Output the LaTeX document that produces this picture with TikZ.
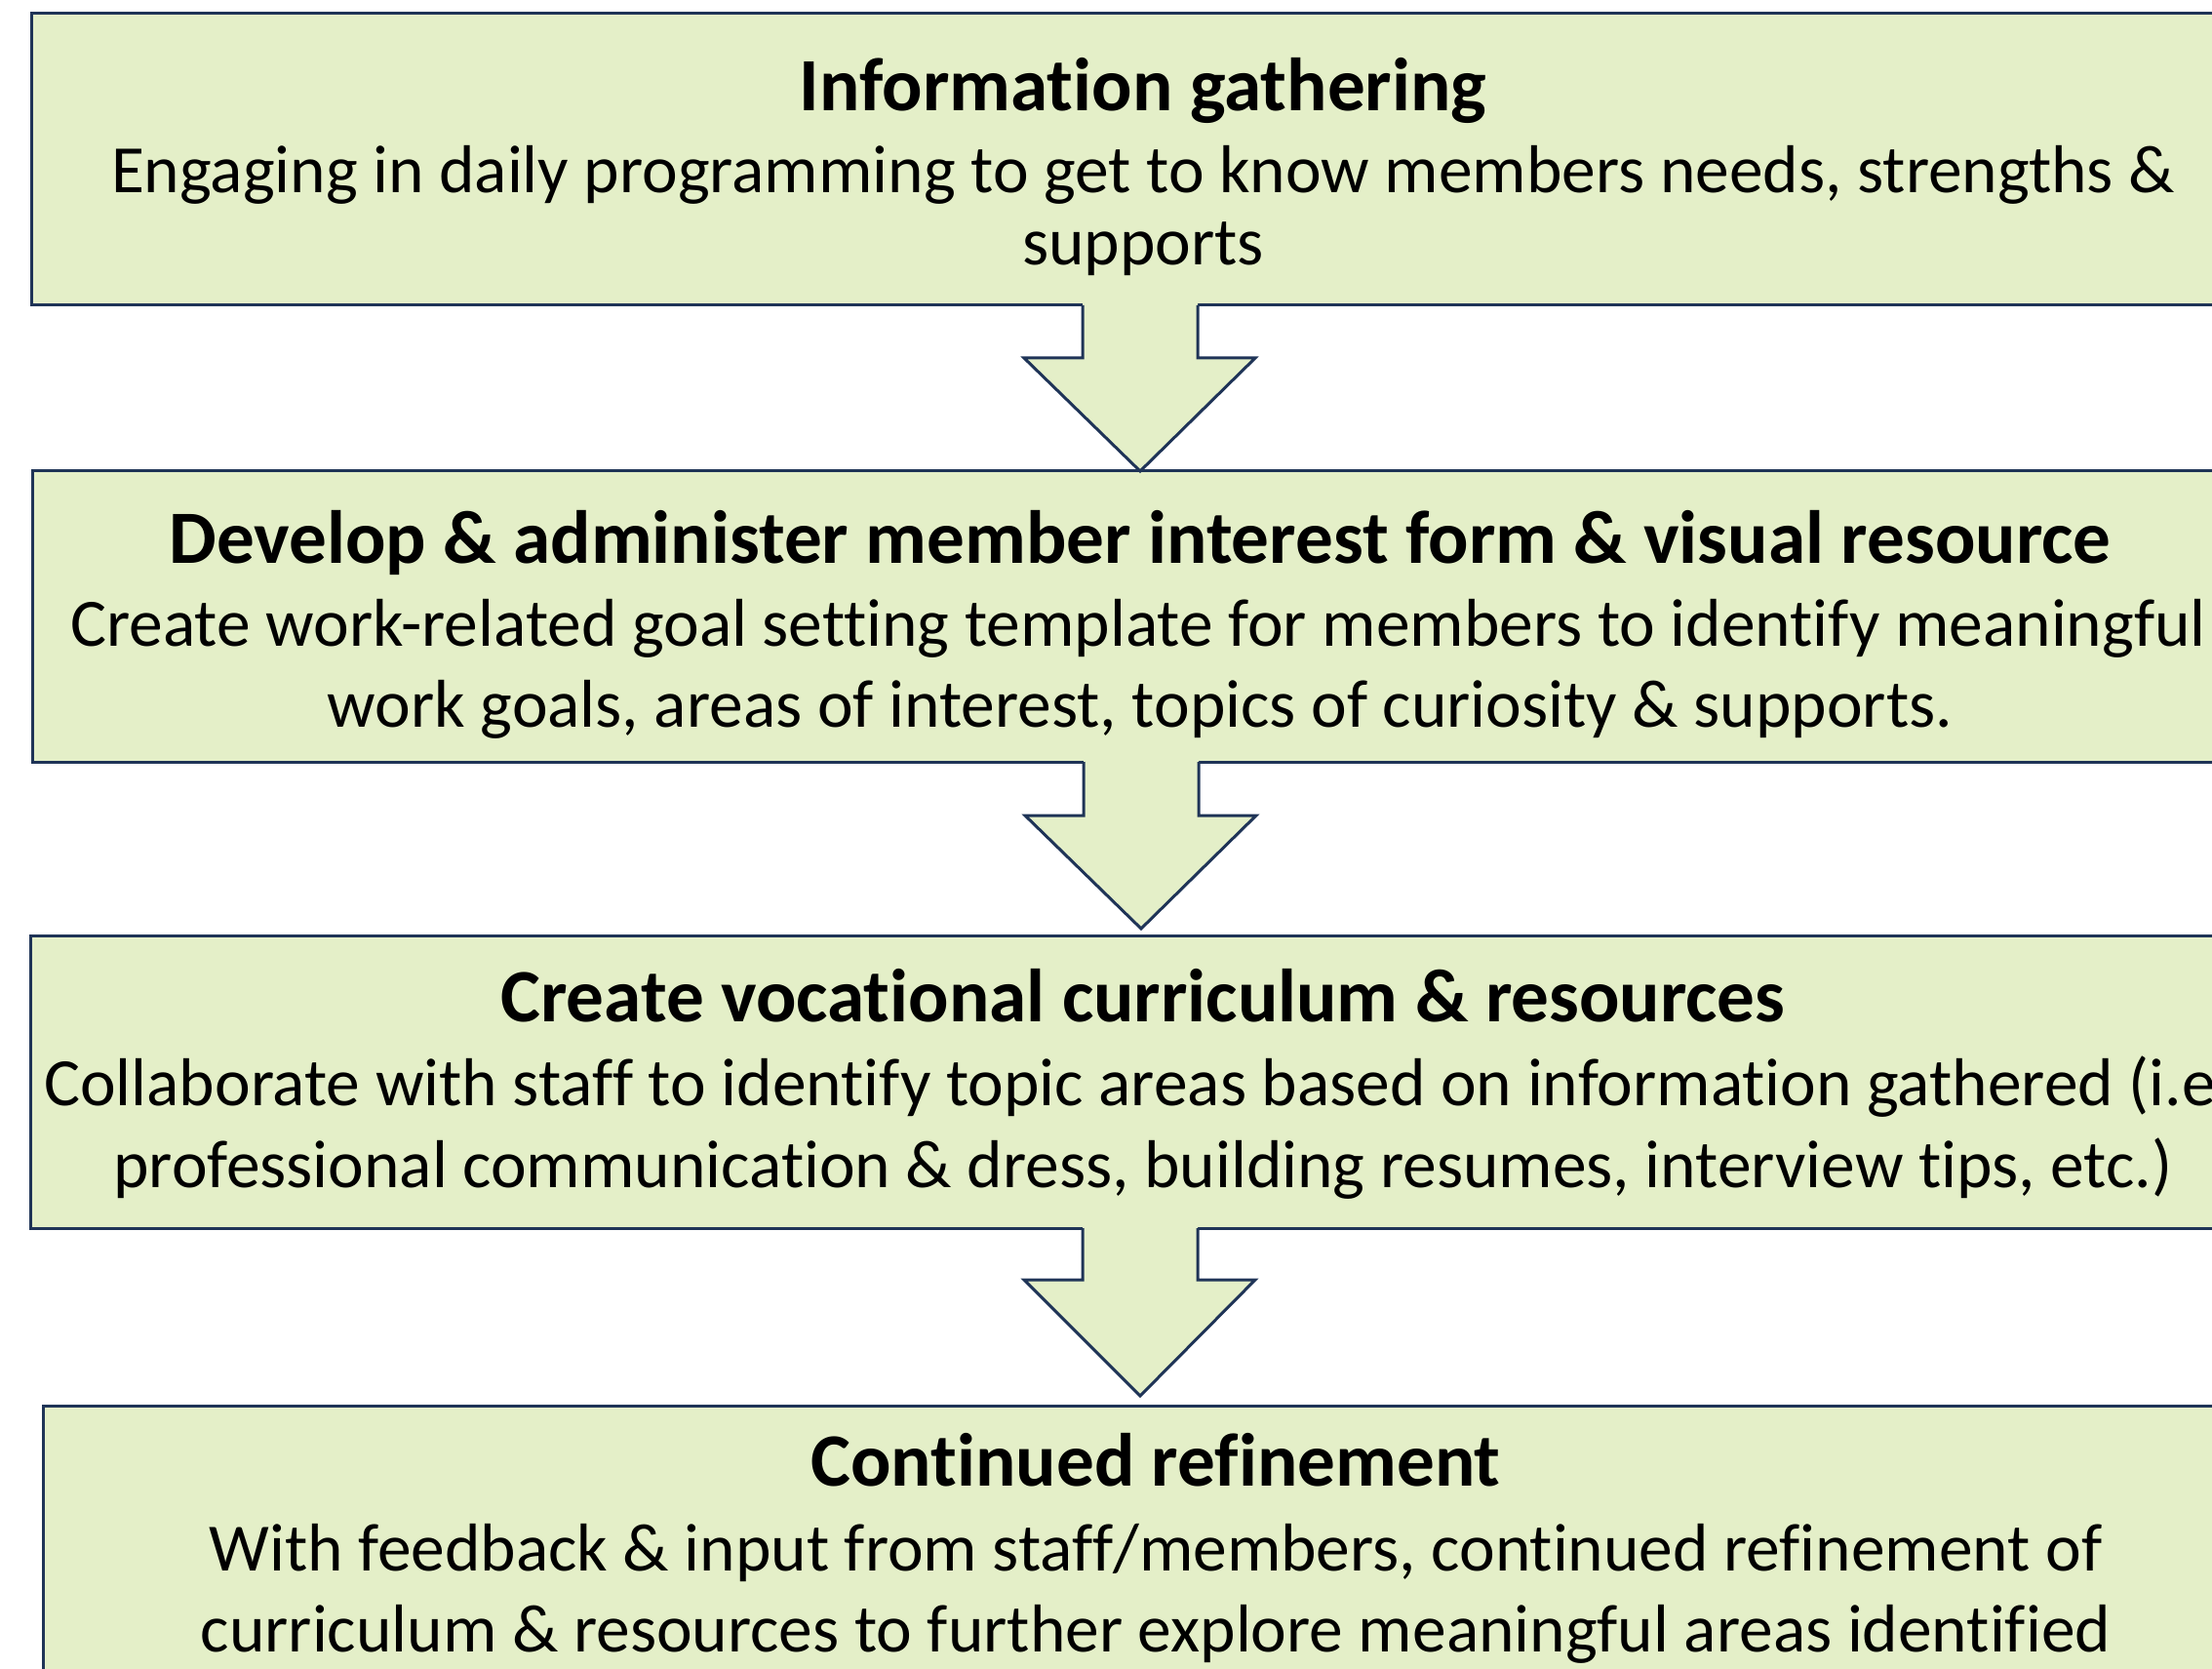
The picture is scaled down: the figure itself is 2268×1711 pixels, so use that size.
\documentclass[tikz,border=0pt]{standalone}
\usepackage{fontspec}
\setmainfont{Carlito}[Ligatures={NoCommon}]
\definecolor{boxfill}{HTML}{E4EFC8}
\definecolor{boxline}{HTML}{1F3457}
\begin{document}
\begin{tikzpicture}[x=0.5pt,y=-0.5pt,
  stepbox/.style={fill=boxfill,draw=boxline,line width=1.5pt},
  arrowfill/.style={fill=boxfill},
  arrowline/.style={draw=boxline,line width=1.5pt,line join=miter},
  headline/.style={inner sep=0pt,anchor=base,font=\fontsize{38.6}{46}\selectfont\bfseries},
  bodyline/.style={inner sep=0pt,anchor=base,font=\fontsize{34.7}{42}\selectfont}]
\useasboundingbox (0,0) rectangle (2268,1711);
\clip (0,0) rectangle (2268,1711);

% step boxes
\draw[stepbox] (32,14) rectangle (2330,313);
\draw[stepbox] (33,483) rectangle (2330,781);
\draw[stepbox] (31,959) rectangle (2330,1259);
\draw[stepbox] (44,1441) rectangle (2340,1760);

% block arrows between the steps
\fill[arrowfill] (1110,311) -- (1110,367) -- (1050,367) -- (1169,483) -- (1287,367) -- (1228,367) -- (1228,311) -- cycle;
\draw[arrowline] (1110,313) -- (1110,367) -- (1050,367) -- (1169,483) -- (1287,367) -- (1228,367) -- (1228,313);
\fill[arrowfill] (1111,779) -- (1111,836) -- (1051,836) -- (1170,952) -- (1288,836) -- (1229,836) -- (1229,779) -- cycle;
\draw[arrowline] (1111,781) -- (1111,836) -- (1051,836) -- (1170,952) -- (1288,836) -- (1229,836) -- (1229,781);
\fill[arrowfill] (1110,1257) -- (1110,1312) -- (1050,1312) -- (1169,1431) -- (1287,1312) -- (1228,1312) -- (1228,1257) -- cycle;
\draw[arrowline] (1110,1259) -- (1110,1312) -- (1050,1312) -- (1169,1431) -- (1287,1312) -- (1228,1312) -- (1228,1259);

% step 1
\node[headline] (t1) at (1172,114) {Information gathering};
\node[bodyline] (b1a) at (1172,198) {Engaging in daily programming to get to know members needs, strengths \&};
\node[bodyline] (b1b) at (1172,272) {supports};

% step 2
\node[headline] (t2) at (1169,577) {Develop \& administer member interest form \& visual resource};
\node[bodyline] (b2a) at (1167,662) {Create work-related goal setting template for members to identify meaningful};
\node[bodyline] (b2b) at (1169,745) {work goals, areas of interest, topics of curiosity \& supports.};

% step 3
\node[headline] (t3) at (1172,1047) {Create vocational curriculum \& resources};
\node[bodyline, anchor=base west] (b3a) at (45,1133) {Collaborate with staff to identify topic areas based on information gathered (i.e};
\node[bodyline] (b3b) at (1172,1217) {professional communication \& dress, building resumes, interview tips, etc.)};

% step 4
\node[headline] (t4) at (1185,1523) {Continued refinement};
\node[bodyline] (b4a) at (1185,1610) {With feedback \& input from staff/members, continued refinement of};
\node[bodyline] (b4b) at (1185,1693) {curriculum \& resources to further explore meaningful areas identified};
\end{tikzpicture}
\end{document}
